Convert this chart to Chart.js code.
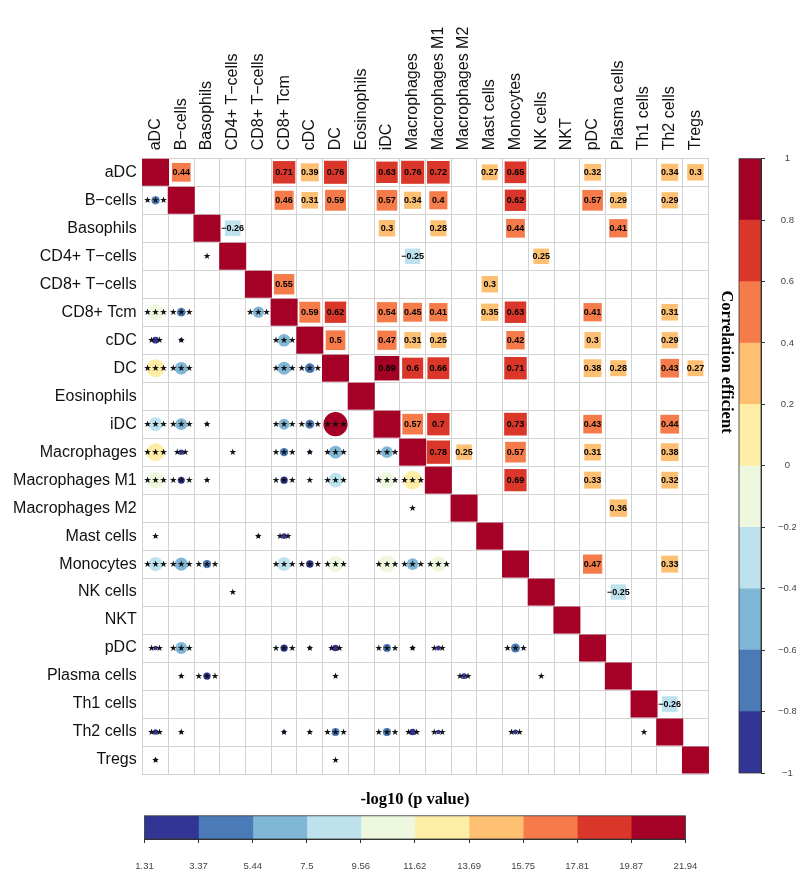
<!DOCTYPE html>
<html>
<head>
<meta charset="utf-8">
<script src="https://cdn.jsdelivr.net/npm/chart.js@4.4.1/dist/chart.umd.min.js"></script>
<style>
  html, body { margin: 0; padding: 0; background: #fff; }
  #wrap { position: relative; width: 796px; height: 870px; }
  canvas { position: absolute; }
</style>
</head>
<body>
<div id="wrap">
  <canvas id="corrMap" width="796" height="870" style="left:0;top:0;width:796px;height:870px"></canvas>
  <canvas id="corrBar" width="96" height="660" style="left:700px;top:140px;width:96px;height:660px"></canvas>
  <canvas id="pBar" width="640" height="100" style="left:95px;top:780px;width:640px;height:100px"></canvas>
</div>
<script>
const cellTypes = ['aDC', 'B−cells', 'Basophils', 'CD4+ T−cells', 'CD8+ T−cells', 'CD8+ Tcm', 'cDC', 'DC',
  'Eosinophils', 'iDC', 'Macrophages', 'Macrophages M1', 'Macrophages M2', 'Mast cells', 'Monocytes',
  'NK cells', 'NKT', 'pDC', 'Plasma cells', 'Th1 cells', 'Th2 cells', 'Tregs'];

// significant pairs: upper triangle shows r at (pairRow, pairCol), lower shows p at (pairCol, pairRow)
const pairRow = [
  'aDC', 'aDC', 'aDC', 'aDC', 'aDC', 'aDC', 'aDC', 'aDC', 'aDC', 'aDC', 'aDC', 'aDC',
  'B−cells', 'B−cells', 'B−cells', 'B−cells', 'B−cells', 'B−cells', 'B−cells', 'B−cells', 'B−cells', 'B−cells',
  'Basophils', 'Basophils', 'Basophils', 'Basophils', 'Basophils',
  'CD4+ T−cells', 'CD4+ T−cells',
  'CD8+ T−cells', 'CD8+ T−cells',
  'CD8+ Tcm', 'CD8+ Tcm', 'CD8+ Tcm', 'CD8+ Tcm', 'CD8+ Tcm', 'CD8+ Tcm', 'CD8+ Tcm', 'CD8+ Tcm', 'CD8+ Tcm',
  'cDC', 'cDC', 'cDC', 'cDC', 'cDC', 'cDC', 'cDC',
  'DC', 'DC', 'DC', 'DC', 'DC', 'DC', 'DC', 'DC',
  'iDC', 'iDC', 'iDC', 'iDC', 'iDC',
  'Macrophages', 'Macrophages', 'Macrophages', 'Macrophages', 'Macrophages',
  'Macrophages M1', 'Macrophages M1', 'Macrophages M1',
  'Macrophages M2',
  'Monocytes', 'Monocytes',
  'NK cells',
  'Th1 cells'
];
const pairCol = [
  'B−cells', 'CD8+ Tcm', 'cDC', 'DC', 'iDC', 'Macrophages', 'Macrophages M1', 'Mast cells', 'Monocytes', 'pDC', 'Th2 cells', 'Tregs',
  'CD8+ Tcm', 'cDC', 'DC', 'iDC', 'Macrophages', 'Macrophages M1', 'Monocytes', 'pDC', 'Plasma cells', 'Th2 cells',
  'CD4+ T−cells', 'iDC', 'Macrophages M1', 'Monocytes', 'Plasma cells',
  'Macrophages', 'NK cells',
  'CD8+ Tcm', 'Mast cells',
  'cDC', 'DC', 'iDC', 'Macrophages', 'Macrophages M1', 'Mast cells', 'Monocytes', 'pDC', 'Th2 cells',
  'DC', 'iDC', 'Macrophages', 'Macrophages M1', 'Monocytes', 'pDC', 'Th2 cells',
  'iDC', 'Macrophages', 'Macrophages M1', 'Monocytes', 'pDC', 'Plasma cells', 'Th2 cells', 'Tregs',
  'Macrophages', 'Macrophages M1', 'Monocytes', 'pDC', 'Th2 cells',
  'Macrophages M1', 'Macrophages M2', 'Monocytes', 'pDC', 'Th2 cells',
  'Monocytes', 'pDC', 'Th2 cells',
  'Plasma cells',
  'pDC', 'Th2 cells',
  'Plasma cells',
  'Th2 cells'
];
const corrR = [
  0.44, 0.71, 0.39, 0.76, 0.63, 0.76, 0.72, 0.27, 0.65, 0.32, 0.34, 0.3,
  0.46, 0.31, 0.59, 0.57, 0.34, 0.4, 0.62, 0.57, 0.29, 0.29,
  -0.26, 0.3, 0.28, 0.44, 0.41,
  -0.25, 0.25,
  0.55, 0.3,
  0.59, 0.62, 0.54, 0.45, 0.41, 0.35, 0.63, 0.41, 0.31,
  0.5, 0.47, 0.31, 0.25, 0.42, 0.3, 0.29,
  0.89, 0.6, 0.66, 0.71, 0.38, 0.28, 0.43, 0.27,
  0.57, 0.7, 0.73, 0.43, 0.44,
  0.78, 0.25, 0.57, 0.31, 0.38,
  0.69, 0.33, 0.32,
  0.36,
  0.47, 0.33,
  -0.25,
  -0.26
];
const negLogP = [
  3.7, 10.6, 2.9, 12.9, 7.9, 12.8, 11.0, 1.55, 8.4, 2.05, 2.3, 1.85,
  4.0, 1.95, 6.9, 6.3, 2.3, 3.05, 7.4, 6.3, 1.75, 1.75,
  1.45, 1.85, 1.65, 3.7, 3.2,
  1.37, 1.37,
  5.8, 1.85,
  6.9, 7.3, 5.6, 3.8, 3.2, 2.4, 7.9, 3.2, 1.95,
  4.7, 4.2, 1.95, 1.37, 3.3, 1.85, 1.75,
  21.9, 7.2, 8.8, 10.6, 2.8, 1.65, 3.55, 1.55,
  6.3, 10.2, 11.5, 3.55, 3.7,
  13.5, 1.37, 6.3, 1.95, 2.8,
  9.8, 2.15, 2.05,
  2.5,
  4.2, 2.15,
  1.37,
  1.45
];

const corrTicks = [-1, -0.8, -0.6, -0.4, -0.2, 0, 0.2, 0.4, 0.6, 0.8, 1];
const pTicks = [1.31, 3.37, 5.44, 7.5, 9.56, 11.62, 13.69, 15.75, 17.81, 19.87, 21.94];

// low -> high
const palette = ['#313695', '#4A7BB7', '#80B7D6', '#BDE2EE', '#EEF8DF', '#FEEEA5', '#FDBF71', '#F67B4A', '#DA372A', '#A50026'];

const n = cellTypes.length;

function corrColor(r) {
  const i = Math.floor((r + 1) * 5 + 1e-9);
  return palette[Math.max(0, Math.min(9, i))];
}
function pColor(v) {
  const i = Math.floor((v - pTicks[0]) / (pTicks[1] - pTicks[0]));
  return palette[Math.max(0, Math.min(9, i))];
}
function stars(v) {
  if (v >= 3) return '***';
  if (v >= 2) return '**';
  return '*';
}
function cellSize(chart) {
  const a = chart.chartArea;
  return a ? Math.min(a.width, a.height) / n : 25.7;
}
const minus = s => String(s).replace('-', '−');

const labelFont = { family: '"Liberation Sans", Arial, sans-serif', size: 16 };
const smallFont = { family: '"Liberation Sans Narrow", "Liberation Sans", sans-serif', size: 9.5 };
const gridColor = '#d2d2d2';

const cellText = {
  id: 'cellText',
  afterDatasetsDraw(chart) {
    const ctx = chart.ctx;
    ctx.save();
    ctx.textAlign = 'center';
    ctx.textBaseline = 'middle';
    ctx.fillStyle = '#000';
    ctx.font = 'bold 9px "Liberation Sans", Arial, sans-serif';
    chart.getDatasetMeta(1).data.forEach((el, i) => {
      ctx.fillText(minus(corrR[i]), el.x, el.y + 0.5);
    });
    ctx.fillStyle = '#111';
    ctx.font = '9px "DejaVu Sans"';
    chart.getDatasetMeta(2).data.forEach((el, i) => {
      ctx.fillText(stars(negLogP[i]).replace(/\*/g, '★'), el.x, el.y + 0.5);
    });
    ctx.restore();
  }
};

new Chart(document.getElementById('corrMap'), {
  type: 'bubble',
  data: {
    datasets: [
      {
        data: cellTypes.map(c => ({ x: c, y: c })),
        pointStyle: 'rect',
        backgroundColor: corrColor(1),
        borderWidth: 0,
        radius: ctx => (cellSize(ctx.chart) + 1.3) / Math.SQRT2,
        clip: false
      },
      {
        data: pairRow.map((r, i) => ({ x: pairCol[i], y: r, v: corrR[i] })),
        pointStyle: 'rect',
        backgroundColor: ctx => corrColor(ctx.raw ? ctx.raw.v : 0),
        borderWidth: 0,
        radius: ctx => {
          const v = ctx.raw ? Math.abs(ctx.raw.v) : 0;
          return cellSize(ctx.chart) * (0.2 + 0.8 * Math.sqrt(v)) / Math.SQRT2;
        },
        clip: false
      },
      {
        data: pairRow.map((r, i) => ({ x: r, y: pairCol[i], v: negLogP[i] })),
        pointStyle: 'circle',
        backgroundColor: ctx => pColor(ctx.raw ? ctx.raw.v : 0),
        borderWidth: 0,
        radius: ctx => {
          const v = ctx.raw ? ctx.raw.v : pTicks[0];
          const lo = pTicks[0], hi = pTicks[pTicks.length - 1];
          return cellSize(ctx.chart) * 0.47 * Math.sqrt(Math.max(0, v - lo) / (hi - lo));
        },
        clip: false
      }
    ]
  },
  options: {
    responsive: false,
    animation: false,
    events: [],
    layout: { padding: { left: 0, top: 0, right: 87.7, bottom: 96 } },
    plugins: { legend: { display: false }, tooltip: { enabled: false } },
    scales: {
      x: {
        type: 'category',
        labels: cellTypes,
        position: 'top',
        offset: true,
        grid: { offset: true, color: gridColor, drawTicks: false },
        border: { display: true, color: gridColor },
        ticks: { font: labelFont, color: '#111', minRotation: 90, maxRotation: 90, padding: 8, autoSkip: false, labelOffset: 19.2 },
        afterFit: s => { s.height = 158.3; }
      },
      y: {
        type: 'category',
        labels: cellTypes,
        offset: true,
        grid: { offset: true, color: gridColor, drawTicks: false },
        border: { display: true, color: gridColor },
        ticks: { font: labelFont, color: '#111', padding: 6, autoSkip: false },
        afterFit: s => { s.width = 142.7; }
      }
    }
  },
  plugins: [cellText]
});

const barFrame = {
  id: 'barFrame',
  afterDatasetsDraw(chart) {
    const a = chart.chartArea;
    const ctx = chart.ctx;
    ctx.save();
    ctx.strokeStyle = '#333';
    ctx.lineWidth = 0.8;
    ctx.strokeRect(a.left, a.top, a.width, a.height);
    ctx.restore();
  }
};

const corrTitle = {
  id: 'corrTitle',
  afterDraw(chart) {
    const ctx = chart.ctx;
    ctx.save();
    ctx.translate(chart.chartArea.left - 13, 222);
    ctx.rotate(Math.PI / 2);
    ctx.textAlign = 'center';
    ctx.textBaseline = 'middle';
    ctx.fillStyle = '#000';
    ctx.font = 'bold 16.5px "Liberation Serif", "Times New Roman", serif';
    ctx.fillText('Correlation efficient', 0, 0);
    ctx.restore();
  }
};

function stepBars(ticks) {
  return ticks.slice(0, -1).map((lo, i) => ({
    data: [[lo, ticks[i + 1]]],
    backgroundColor: palette[i],
    borderWidth: 0,
    grouped: false,
    barPercentage: 1,
    categoryPercentage: 1
  }));
}

new Chart(document.getElementById('corrBar'), {
  type: 'bar',
  data: { labels: [''], datasets: stepBars(corrTicks) },
  options: {
    responsive: false,
    animation: false,
    events: [],
    layout: { padding: { left: 39, top: 17, bottom: 27, right: 0 } },
    plugins: { legend: { display: false }, tooltip: { enabled: false } },
    scales: {
      x: { display: false },
      y: {
        position: 'right',
        min: -1,
        max: 1,
        afterBuildTicks: s => { s.ticks = corrTicks.map(v => ({ value: v })); },
        ticks: { font: smallFont, color: '#444', padding: 13, crossAlign: 'center', callback: v => minus(v) },
        grid: { drawOnChartArea: false, tickLength: 4, color: '#333' },
        border: { display: true, color: '#333' },
        afterFit: s => { s.width = 35; }
      }
    }
  },
  plugins: [barFrame, corrTitle]
});

new Chart(document.getElementById('pBar'), {
  type: 'bar',
  data: { labels: [''], datasets: stepBars(pTicks) },
  options: {
    indexAxis: 'y',
    responsive: false,
    animation: false,
    events: [],
    layout: { padding: { left: 49.5, right: 49.5, top: 0, bottom: 0 } },
    plugins: {
      legend: { display: false },
      tooltip: { enabled: false },
      title: {
        display: true,
        text: '-log10 (p value)',
        color: '#000',
        font: { family: '"Liberation Serif", "Times New Roman", serif', size: 16.5, weight: 'bold' },
        padding: { top: 10, bottom: 6 }
      }
    },
    scales: {
      y: { display: false },
      x: {
        min: pTicks[0],
        max: pTicks[pTicks.length - 1],
        afterBuildTicks: s => { s.ticks = pTicks.map(v => ({ value: v })); },
        ticks: { font: smallFont, color: '#444', padding: 18, maxRotation: 0, autoSkip: false, callback: v => String(v) },
        grid: { drawOnChartArea: false, tickLength: 4, color: '#333' },
        border: { display: true, color: '#333' },
        afterFit: s => { s.height = 41; }
      }
    }
  },
  plugins: [barFrame]
});
</script>
</body>
</html>
